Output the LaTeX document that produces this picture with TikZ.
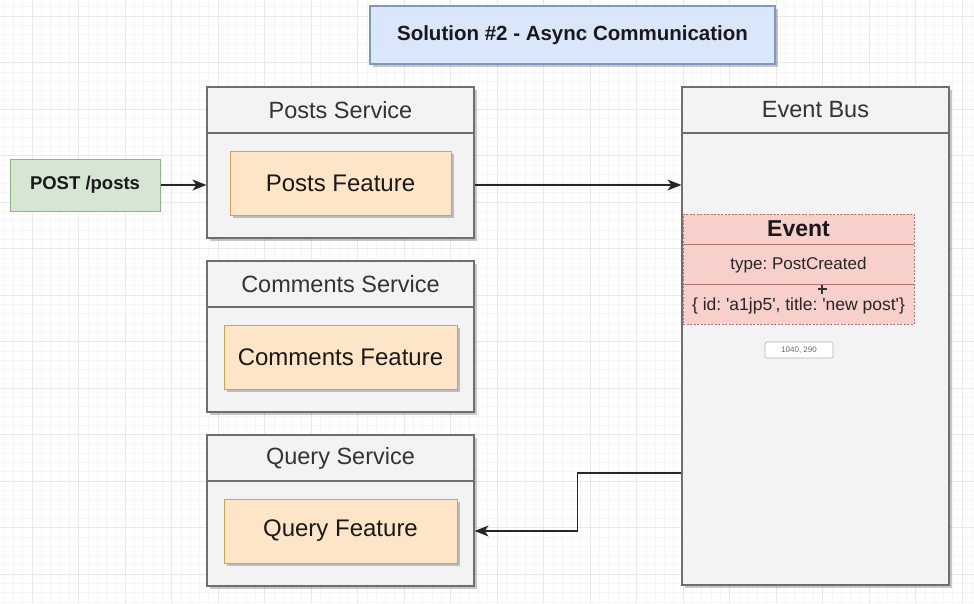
\documentclass[tikz,border=0pt]{standalone}
\usepackage{fontspec}
\setmainfont{Liberation Sans}
\usetikzlibrary{shadows,arrows.meta}

\definecolor{gridminor}{HTML}{F6F6F6}
\definecolor{gridmajor}{HTML}{E9E9E9}
\definecolor{svcfill}{HTML}{F3F3F3}
\definecolor{svcline}{HTML}{6E6E6E}
\definecolor{svctext}{HTML}{333333}
\definecolor{featfill}{HTML}{FDE6C8}
\definecolor{featline}{HTML}{D7A04A}
\definecolor{evfill}{HTML}{F7D0CC}
\definecolor{evline}{HTML}{B8706C}
\definecolor{titlefill}{HTML}{DAE6FA}
\definecolor{titleline}{HTML}{7E98C4}
\definecolor{reqfill}{HTML}{D5E6D3}
\definecolor{reqline}{HTML}{8DB57E}

\newcommand{\sq}{\textquotesingle}

\tikzset{
  shade3/.style={drop shadow={shadow xshift=2.5pt, shadow yshift=-2.5pt, fill=black, opacity=0.22}},
  svcbox/.style={draw=svcline, fill=svcfill, line width=1.2pt, shade3, inner sep=0pt},
  featbox/.style={draw=featline, fill=featfill, line width=1pt, shade3, inner sep=0pt,
    font=\fontsize{24}{28}\selectfont, text=black!90},
  hdr/.style={font=\fontsize{23.5}{28}\selectfont, text=svctext},
  conn/.style={draw=black!85, line width=1.2pt, -{Stealth[length=14pt,width=11pt,inset=4pt]}},
  divider/.style={draw=svcline, line width=1.2pt},
}

\begin{document}
\frenchspacing
\begin{tikzpicture}[x=1pt,y=-1pt]
\useasboundingbox (0,0) rectangle (974,603);
\fill[white] (0,0) rectangle (974,603);

% background grid
\begin{scope}
\clip (0,0) rectangle (974,603);
\foreach \i in {0,...,106} {\draw[gridminor, line width=0.6pt] ({-14.5+\i*9.3},0) -- ++(0,603);}
\foreach \i in {0,...,67} {\draw[gridminor, line width=0.6pt] (0,{-2.6+\i*9.3}) -- ++(974,0);}
\foreach \i in {0,...,21} {\draw[gridmajor, line width=0.8pt] ({-14.5+\i*46.5},0) -- ++(0,603);}
\foreach \i in {0,...,13} {\draw[gridmajor, line width=0.8pt] (0,{16+\i*46.5}) -- ++(974,0);}
\end{scope}

% title
\node[draw=titleline, fill=titlefill, line width=1.2pt, shade3, minimum width=405pt, minimum height=58pt,
  font=\bfseries\fontsize{20.5}{24}\selectfont, text=black!90] (title) at (572.5,35) {Solution \#2 - Async Communication};

% incoming request
\node[draw=reqline, fill=reqfill, line width=1pt, minimum width=150pt, minimum height=52pt,
  font=\bfseries\fontsize{18.5}{22}\selectfont, text=black!90] (post) at (85,185) {POST /posts};

% posts service
\node[svcbox, minimum width=267pt, minimum height=151pt] (posts) at (340.5,162.5) {};
\draw[divider] (207,133) -- (474,133);
\node[hdr] (postshdr) at (340.5,110) {Posts Service};
\node[featbox, minimum width=221pt, minimum height=64pt] (postsfeat) at (340.5,183) {Posts Feature};

% comments service
\node[svcbox, minimum width=267pt, minimum height=151pt] (comments) at (340.5,336.5) {};
\draw[divider] (207,307) -- (474,307);
\node[hdr] (commentshdr) at (340.5,284) {Comments Service};
\node[featbox, minimum width=233pt, minimum height=64pt] (commentsfeat) at (340.5,357) {Comments Feature};

% query service
\node[svcbox, minimum width=267pt, minimum height=151pt] (query) at (340.5,510.5) {};
\draw[divider] (207,481) -- (474,481);
\node[hdr] (queryhdr) at (340.5,458) {Query Service};
\node[featbox, minimum width=233pt, minimum height=64pt] (queryfeat) at (340.5,531) {Query Feature};

% event bus
\node[svcbox, minimum width=267pt, minimum height=498pt] (bus) at (815.5,336) {};
\draw[divider] (682,133) -- (949,133);
\node[hdr] (bushdr) at (815.5,110) {Event Bus};

% event record
\node[draw=evline, fill=evfill, dashed, dash pattern=on 2pt off 1.5pt, line width=0.8pt,
  minimum width=231pt, minimum height=110pt, inner sep=0pt] (event) at (798.5,269) {};
\draw[evline, line width=1pt] (683,244) -- (914,244);
\draw[evline, line width=1pt] (683,284) -- (914,284);
\node[font=\bfseries\fontsize{23}{27}\selectfont, text=black!90] (evtitle) at (798.5,229) {Event};
\node[font=\fontsize{17}{20}\selectfont, text=black!85] (evtype) at (798.5,265) {type: PostCreated};
\node[font=\fontsize{17.5}{20}\selectfont, text=black!85] (evdata) at (798.5,306) {\{ id: \sq a1jp5\sq, title: \sq new post\sq\}};

% pointer cross
\draw[black!80, line width=1.3pt] (817.5,289) -- (826.5,289) (822,284.5) -- (822,293.5);

% position readout
\node[draw=black!30, fill=white, rounded corners=1.5pt, line width=0.7pt, minimum width=68pt, minimum height=16pt,
  inner sep=0pt, font=\fontsize{8}{9}\selectfont, text=black!60] (readout) at (799,350) {1040, 290};

% connectors
\draw[conn] (post.east) -- (post.east -| posts.west);
\draw[conn] (posts.east |- post.east) -- (bus.west |- post.east);
\path (bus.west) ++(0,137) coordinate (busout);
\draw[conn] (busout) -- ++(-104,0) |- (query.east |- queryfeat);
\end{tikzpicture}
\end{document}
